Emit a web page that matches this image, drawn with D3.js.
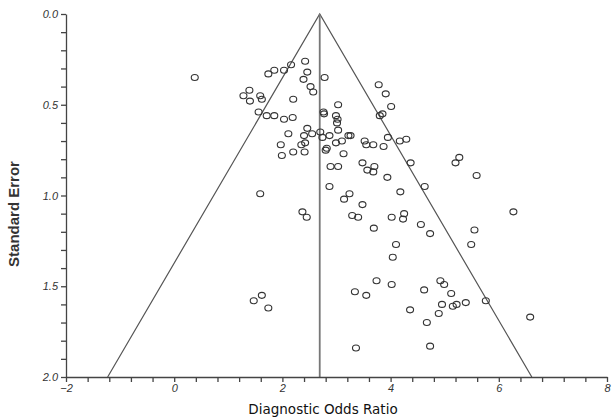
<!DOCTYPE html>
<html>
<head>
<meta charset="utf-8">
<script src="https://cdn.jsdelivr.net/npm/d3@7"></script>
<style>
  body { margin: 0; background: #fff; }
  .axis path, .axis line { stroke: #444; stroke-width: 1.3; }
  .axis text { font-family: "Liberation Sans", Arial, sans-serif; font-style: italic; font-size: 11px; fill: #333; }
</style>
</head>
<body>
<svg id="funnel" width="614" height="418"></svg>
<script>
// funnel plot: diagnostic odds ratio vs standard error

var dor = [0.38, 2.16, 2.42, 1.85, 1.74, 2.03, 2.46, 2.39, 2.78, 2.52,
    2.57, 1.39, 1.28, 1.40, 1.59, 1.62, 2.20, 3.03, 1.56, 1.71,
    1.85, 2.03, 2.19, 2.76, 2.77, 2.99, 3.02, 3.01, 3.03, 2.11,
    2.46, 2.40, 2.55, 2.70, 2.74, 2.87, 3.22, 3.26, 3.10, 2.99,
    2.35, 2.42, 2.41, 1.97, 1.99, 2.20, 2.80, 2.82, 3.13, 3.52,
    3.55, 3.68, 3.95, 3.87, 4.17, 4.29, 4.37, 2.89, 3.03, 3.48,
    3.57, 3.68, 3.70, 3.94, 3.78, 3.91, 4.01, 3.80, 3.85, 2.87,
    3.24, 3.14, 1.59, 4.18, 4.63, 3.48, 2.37, 2.45, 3.29, 3.40,
    4.02, 4.25, 4.23, 5.27, 5.20, 5.59, 6.27, 4.56, 4.73, 5.55,
    5.49, 3.69, 4.10, 4.04, 3.74, 4.02, 3.34, 3.55, 4.62, 4.92,
    4.99, 5.12, 4.95, 5.15, 5.22, 5.39, 5.76, 4.36, 4.89, 4.67,
    6.58, 4.73, 3.36, 1.62, 1.47, 1.74];
var se = [0.35, 0.28, 0.26, 0.31, 0.33, 0.31, 0.32, 0.36, 0.35, 0.40,
    0.43, 0.42, 0.45, 0.48, 0.45, 0.47, 0.47, 0.50, 0.54, 0.56,
    0.56, 0.58, 0.57, 0.54, 0.55, 0.56, 0.58, 0.60, 0.64, 0.66,
    0.63, 0.67, 0.66, 0.65, 0.68, 0.67, 0.67, 0.67, 0.70, 0.71,
    0.72, 0.71, 0.76, 0.72, 0.78, 0.76, 0.75, 0.74, 0.77, 0.70,
    0.72, 0.72, 0.68, 0.73, 0.70, 0.69, 0.82, 0.84, 0.84, 0.82,
    0.86, 0.87, 0.84, 0.90, 0.39, 0.44, 0.51, 0.56, 0.55, 0.95,
    0.99, 1.02, 0.99, 0.98, 0.95, 1.05, 1.09, 1.12, 1.11, 1.12,
    1.12, 1.10, 1.13, 0.79, 0.82, 0.89, 1.09, 1.16, 1.21, 1.19,
    1.27, 1.18, 1.27, 1.34, 1.47, 1.49, 1.53, 1.55, 1.52, 1.47,
    1.49, 1.54, 1.60, 1.61, 1.60, 1.59, 1.58, 1.63, 1.65, 1.70,
    1.67, 1.83, 1.84, 1.55, 1.58, 1.62];

var pooled = 2.69;   // summary estimate (apex of the funnel)
var seMax = 2.0;
var xTicks = [-2, 0, 2, 4, 6, 8];
var yTicks = [0.0, 0.5, 1.0, 1.5, 2.0];

var svg = d3.select("#funnel");
var margin = {top: 14, right: 5, bottom: 41, left: 66};
var width = 614 - margin.left - margin.right;
var height = 418 - margin.top - margin.bottom;

var g = svg.append("g")
    .attr("transform", "translate(" + margin.left + "," + margin.top + ")");

var x = d3.scaleLinear().domain([-2, 8]).range([0, width - 2]);
var y = d3.scaleLinear().domain([0, seMax]).range([0, height]);

// funnel: pseudo 95% limits and vertical summary line
var limits = [[pooled - 1.96 * seMax, seMax], [pooled, 0], [pooled + 1.96 * seMax, seMax]];
g.append("path")
    .datum(limits)
    .attr("fill", "none")
    .attr("stroke", "#555")
    .attr("stroke-width", 1.2)
    .attr("d", d3.line().x(function(d) { return x(d[0]); }).y(function(d) { return y(d[1]); }));

g.append("line")
    .attr("x1", x(pooled)).attr("x2", x(pooled))
    .attr("y1", y(0)).attr("y2", y(seMax))
    .attr("stroke", "#777")
    .attr("stroke-width", 1.8);

// studies
g.selectAll("ellipse.pt")
    .data(d3.range(dor.length))
    .enter().append("ellipse")
    .attr("class", "pt")
    .attr("cx", function(i) { return x(dor[i]); })
    .attr("cy", function(i) { return y(se[i]); })
    .attr("rx", 3.5)
    .attr("ry", 3)
    .attr("fill", "none")
    .attr("stroke", "#333")
    .attr("stroke-width", 1.1);

// axes (minor ticks everywhere, labels on major ones)
var xAxis = d3.axisBottom(x)
    .tickValues(d3.range(0, 26).map(function(i) { return -2 + i * 0.4; }))
    .tickSize(5).tickSizeOuter(0).tickPadding(2)
    .tickFormat(function(d) {
        var r = Math.round(d);
        return (Math.abs(d - r) < 1e-6 && xTicks.indexOf(r) >= 0) ? d3.format("d")(r) : "";
    });

var yAxis = d3.axisLeft(y)
    .tickValues(d3.range(0, 21).map(function(i) { return i * 0.1; }))
    .tickSize(5).tickSizeOuter(0).tickPadding(3)
    .tickFormat(function(d) {
        var r = Math.round(d * 2) / 2;
        return (Math.abs(d - r) < 1e-6 && yTicks.indexOf(r) >= 0) ? d3.format(".1f")(r) : "";
    });

g.append("g")
    .attr("class", "axis axis--x")
    .attr("transform", "translate(0," + height + ")")
    .call(xAxis);

g.append("g")
    .attr("class", "axis axis--y")
    .call(yAxis);

// titles
svg.append("text")
    .attr("x", 323)
    .attr("y", 414)
    .attr("text-anchor", "middle")
    .style("font-family", "'DejaVu Sans', Verdana, sans-serif")
    .style("font-size", "13.5px")
    .style("fill", "#111")
    .text("Diagnostic Odds Ratio");

svg.append("text")
    .attr("transform", "translate(19,214) rotate(-90)")
    .attr("text-anchor", "middle")
    .style("font-family", "'Liberation Sans', Arial, sans-serif")
    .style("font-size", "15px")
    .style("font-weight", "bold")
    .style("fill", "#333")
    .text("Standard Error");
</script>
</body>
</html>
